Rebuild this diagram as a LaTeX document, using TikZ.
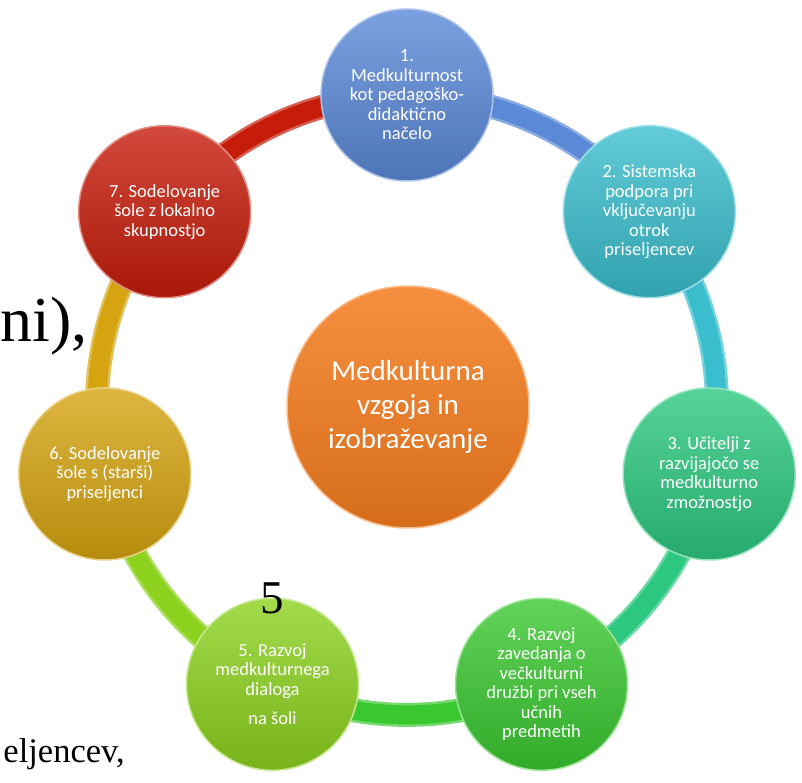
\documentclass[tikz,border=0pt]{standalone}
\usepackage{fontspec}
\setmainfont{Liberation Serif}
\newfontfamily\calfont{Carlito}
\usetikzlibrary{calc}
\pgfdeclarelayer{bg}
\pgfsetlayers{bg,main}
\definecolor{cA}{RGB}{91,137,216}
\definecolor{cB}{RGB}{58,190,205}
\definecolor{cC}{RGB}{44,200,128}
\definecolor{cD}{RGB}{58,200,48}
\definecolor{cE}{RGB}{140,210,30}
\definecolor{cF}{RGB}{214,164,16}
\definecolor{cG}{RGB}{198,28,10}
\definecolor{cO}{RGB}{244,124,30}
\begin{document}
\begin{tikzpicture}[x=1pt,y=1pt,
  bub/.style={circle, minimum size=172pt, inner sep=0pt, text=white, align=center,
    font=\calfont\fontsize{18.5}{19.5}\selectfont,
    top color=#1!80!white, middle color=#1, bottom color=#1!85!black,
    draw=#1!50!white, line width=1.5pt},
  band/.style={line width=24pt, draw=#1!70!white,
    postaction={draw=#1, line width=19pt}},
  arcto/.style={bend left=25.71, looseness=0.896},
  bigtext/.style={inner sep=0pt, text=black}
]
\useasboundingbox (0,0) rectangle (802,782);
\coordinate (O) at (407,377);

\node[bub=cA] (n1) at ($(O)+(90:310)$) {1.\\Medkulturnost\\kot pedagoško-\\didaktično\\načelo};
\node[bub=cB] (n2) at ($(O)+(38.571:310)$) {2. Sistemska\\podpora pri\\vključevanju\\otrok\\priseljencev};
\node[bub=cC] (n3) at ($(O)+(-12.857:310)$) {3. Učitelji z\\razvijajočo se\\medkulturno\\zmožnostjo};
\node[bub=cD] (n4) at ($(O)+(-64.286:310)$) {4. Razvoj\\zavedanja o\\večkulturni\\družbi pri vseh\\učnih\\predmetih};
\node[bub=cE] (n5) at ($(O)+(-115.714:310)$) {5. Razvoj\\medkulturnega\\dialoga\\[10pt]na šoli};
\node[bub=cF] (n6) at ($(O)+(-167.143:310)$) {6. Sodelovanje\\šole s (starši)\\priseljenci};
\node[bub=cG] (n7) at ($(O)+(141.429:310)$) {7. Sodelovanje\\šole z lokalno\\skupnostjo};

\node[circle, minimum size=242pt, inner sep=0pt, text=white, align=center,
  font=\calfont\fontsize{29}{34}\selectfont,
  top color=cO!85!white, middle color=cO, bottom color=cO!88!black,
  draw=cO!50!white, line width=1.5pt] (c) at (408,375) {Medkulturna\\vzgoja in\\izobraževanje};

\begin{pgfonlayer}{bg}
\fill[white] (0,0) rectangle (802,782);
\draw[band=cA] (n1.center) to[arcto] (n2.center);
\draw[band=cB] (n2.center) to[arcto] (n3.center);
\draw[band=cC] (n3.center) to[arcto] (n4.center);
\draw[band=cD] (n4.center) to[arcto] (n5.center);
\draw[band=cE] (n5.center) to[arcto] (n6.center);
\draw[band=cF] (n6.center) to[arcto] (n7.center);
\draw[band=cG] (n7.center) to[arcto] (n1.center);
\end{pgfonlayer}

\node[bigtext, anchor=base east, font=\fontsize{64}{64}\selectfont] (t1) at (88,440) {ni),};
\node[bigtext, anchor=base east, font=\fontsize{34.5}{34.5}\selectfont] (t2) at (125,20) {eljencev,};
\node[bigtext, anchor=base, font=\fontsize{47}{47}\selectfont] (t3) at (272,169) {5};
\end{tikzpicture}
\end{document}
